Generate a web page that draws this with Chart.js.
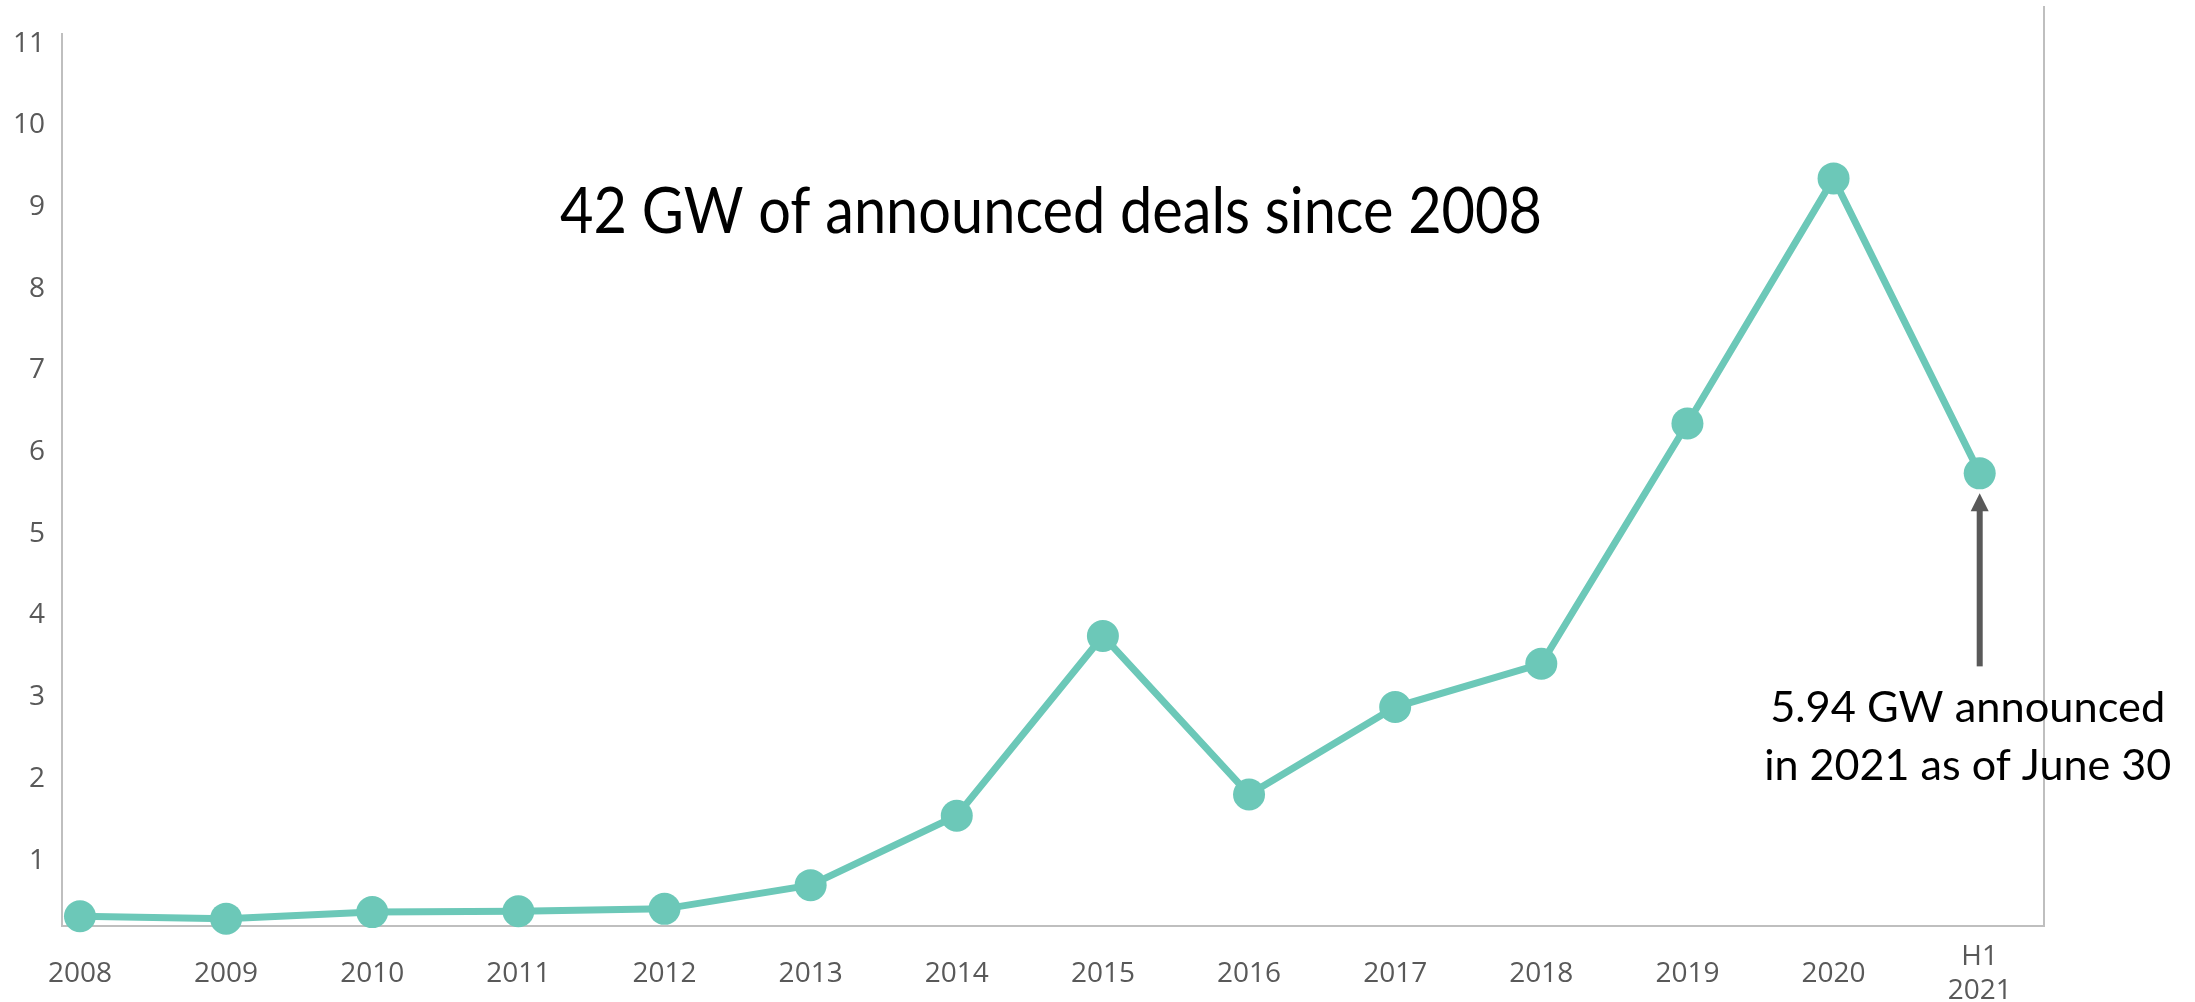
<!DOCTYPE html>
<html>
<head>
<meta charset="utf-8">
<script src="https://cdn.jsdelivr.net/npm/chart.js@4/dist/chart.umd.min.js"></script>
<style>
html,body{margin:0;padding:0;background:#ffffff;}
#wrap{width:2195px;height:1002px;position:relative;}
</style>
</head>
<body>
<div id="wrap"><canvas id="c" width="2195" height="1002"></canvas></div>
<script>
// ---- data ----
const categories = ['2008','2009','2010','2011','2012','2013','2014','2015','2016','2017','2018','2019','2020',['H1','2021']];
const capacityGW = [0.32,0.29,0.37,0.38,0.41,0.70,1.55,3.75,1.81,2.88,3.41,6.35,9.35,5.74];
const yTickValues = [1,2,3,4,5,6,7,8,9,10,11];
const titleText = '42 GW of announced deals since 2008';
const noteLines = ['5.94 GW announced','in 2021 as of June 30'];

// ---- styles ----
const TEAL = '#6cc8b8';
const AXIS = '#bfbfbf';
const LABEL = '#595959';

function drawFitted(ctx, text, cx, baseline, font, targetW) {
  ctx.save();
  ctx.font = font;
  const w = ctx.measureText(text).width;
  const sx = targetW / w;
  ctx.translate(cx, baseline);
  ctx.scale(sx, 1);
  ctx.textAlign = 'center';
  ctx.textBaseline = 'alphabetic';
  ctx.fillText(text, 0, 0);
  ctx.restore();
}

const decor = {
  id: 'decor',
  afterDraw(chart) {
    const ctx = chart.ctx;
    const xs = chart.scales.x, ys = chart.scales.y;
    const area = chart.chartArea;
    // right frame line
    ctx.save();
    ctx.strokeStyle = AXIS;
    ctx.lineWidth = 2;
    ctx.beginPath();
    ctx.moveTo(area.right, 6);
    ctx.lineTo(area.right, area.bottom);
    ctx.stroke();
    ctx.restore();

    // title
    ctx.save();
    ctx.fillStyle = '#000000';
    drawFitted(ctx, titleText, 1051, 233, '64px Lato', 982);
    ctx.restore();

    // arrow pointing to last point
    const last = capacityGW.length - 1;
    const ax = xs.getPixelForValue(last);
    const py = ys.getPixelForValue(capacityGW[last]);
    const tip = py + 20;
    const bottom = tip + 173;
    ctx.save();
    ctx.fillStyle = '#595959';
    ctx.fillRect(ax - 3, tip + 16, 6, bottom - tip - 16);
    ctx.beginPath();
    ctx.moveTo(ax, tip);
    ctx.lineTo(ax - 9, tip + 18);
    ctx.lineTo(ax + 9, tip + 18);
    ctx.closePath();
    ctx.fill();
    ctx.restore();

    // annotation
    ctx.save();
    ctx.fillStyle = '#000000';
    drawFitted(ctx, noteLines[0], ax - 12, bottom + 56, '43px Lato', 395);
    drawFitted(ctx, noteLines[1], ax - 12, bottom + 114, '43px Lato', 407);
    ctx.restore();
  }
};

new Chart(document.getElementById('c'), {
  type: 'line',
  data: {
    datasets: [{
      data: capacityGW.map((v, i) => ({ x: i, y: v })),
      borderColor: TEAL,
      backgroundColor: TEAL,
      borderWidth: 7,
      pointRadius: 16,
      pointHoverRadius: 16,
      pointBackgroundColor: TEAL,
      pointBorderWidth: 0,
      tension: 0,
      clip: false
    }]
  },
  options: {
    responsive: false,
    devicePixelRatio: 1,
    animation: false,
    events: [],
    layout: { padding: { left: 0, right: 151, top: 28, bottom: 0 } },
    plugins: { legend: { display: false }, tooltip: { enabled: false }, title: { display: false } },
    scales: {
      x: {
        type: 'linear',
        min: -0.123,
        max: 13.44,
        afterBuildTicks: s => { s.ticks = categories.map((c, i) => ({ value: i })); },
        afterFit: s => { s.height = 76; },
        grid: { display: false, drawTicks: false, tickLength: 0 },
        border: { display: true, color: AXIS, width: 2 },
        ticks: {
          autoSkip: false,
          maxRotation: 0,
          minRotation: 0,
          crossAlign: 'center',
          padding: 31,
          color: LABEL,
          font: { family: 'Open Sans', size: 28, lineHeight: 1.2 },
          callback: v => categories[v]
        }
      },
      y: {
        min: 0.2,
        max: 11.12,
        afterBuildTicks: s => { s.ticks = yTickValues.map(v => ({ value: v })); },
        afterFit: s => { s.width = 62; },
        grid: { display: false, drawTicks: false, tickLength: 0 },
        border: { display: true, color: AXIS, width: 2 },
        ticks: {
          padding: 17,
          color: LABEL,
          font: { family: 'Open Sans', size: 28 },
          callback: v => String(v)
        }
      }
    }
  },
  plugins: [decor]
});
</script>
</body>
</html>
